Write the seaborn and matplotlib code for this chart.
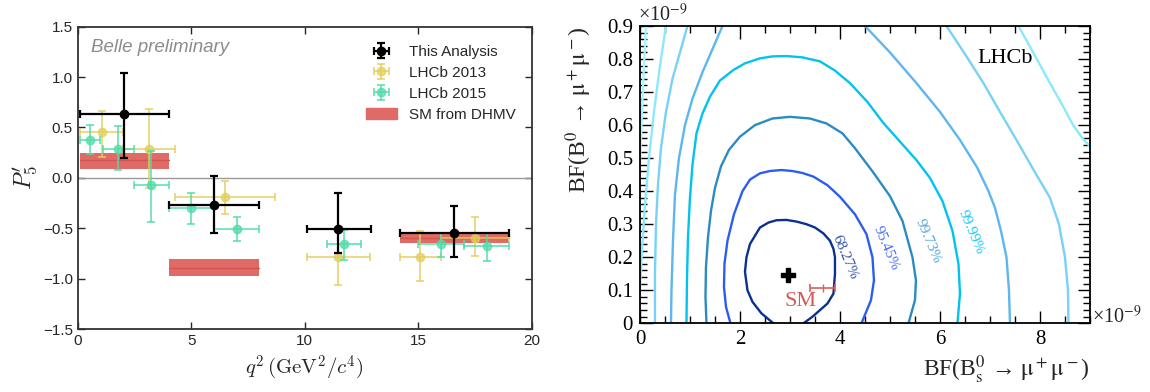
import numpy as np
import seaborn as sns
import matplotlib
matplotlib.use('Agg')
import matplotlib.pyplot as plt
from matplotlib.patches import Patch
from matplotlib.ticker import MultipleLocator, FuncFormatter

# ---------------- left panel: P5' vs q2 ----------------
this_q2 = [2.05, 6.0, 11.48, 16.58]
this_lo = [0.1, 4.0, 10.09, 14.18]
this_hi = [4.0, 8.0, 12.9, 19.0]
this_p5 = [0.63, -0.27, -0.51, -0.55]
this_up = [0.41, 0.29, 0.36, 0.27]
this_dn = [0.43, 0.28, 0.24, 0.24]

lhcb13_q2 = [1.06, 3.14, 6.49, 11.48, 15.08, 17.5]
lhcb13_lo = [0.1, 2.0, 4.3, 10.09, 14.18, 16.0]
lhcb13_hi = [2.0, 4.3, 8.68, 12.86, 16.0, 19.0]
lhcb13_p5 = [0.45, 0.29, -0.19, -0.79, -0.79, -0.60]
lhcb13_up = [0.21, 0.39, 0.16, 0.27, 0.26, 0.21]
lhcb13_dn = [0.24, 0.39, 0.17, 0.27, 0.23, 0.18]

lhcb15_q2 = [0.53, 1.79, 3.23, 4.98, 7.0, 11.75, 15.99, 18.02]
lhcb15_lo = [0.1, 1.1, 2.5, 4.0, 6.0, 11.0, 15.0, 17.0]
lhcb15_hi = [0.98, 2.5, 4.0, 6.0, 8.0, 12.5, 17.0, 19.0]
lhcb15_p5 = [0.38, 0.29, -0.07, -0.30, -0.51, -0.66, -0.66, -0.68]
lhcb15_up = [0.14, 0.22, 0.34, 0.15, 0.12, 0.14, 0.11, 0.13]
lhcb15_dn = [0.14, 0.21, 0.37, 0.16, 0.12, 0.16, 0.13, 0.15]

sm_q2_lo = [0.1, 4.0, 14.18]
sm_q2_hi = [4.0, 8.0, 19.0]
sm_mid = [0.175, -0.89, -0.60]
sm_low = [0.083, -0.97, -0.65]
sm_high = [0.25, -0.81, -0.55]

# ---------------- right panel: BF contours (units of 1e-9) ----------------
c68_x = [2.67, 2.43, 2.25, 2.15, 2.10, 2.13, 2.20, 2.40, 2.57, 2.73, 2.93, 3.13, 3.33, 3.50, 3.67, 3.80, 3.87,
         3.90, 3.90, 3.87, 3.75, 3.60, 3.45, 3.27]
c68_y = [0.0, 0.03, 0.065, 0.10, 0.156, 0.20, 0.24, 0.29, 0.305, 0.312, 0.313, 0.308, 0.30, 0.29, 0.272, 0.25, 0.225,
         0.20, 0.15, 0.09, 0.06, 0.04, 0.02, 0.0]

c95_x = [1.81, 1.72, 1.68, 1.69, 1.75, 1.88, 2.05, 2.2, 2.4, 2.6, 2.83, 3.05, 3.25, 3.47, 3.75, 4.0, 4.3, 4.53,
         4.65, 4.68, 4.62, 4.43]
c95_y = [0.0, 0.05, 0.11, 0.18, 0.25, 0.33, 0.40, 0.435, 0.454, 0.461, 0.464, 0.461, 0.455, 0.444, 0.418, 0.383,
         0.33, 0.27, 0.2, 0.13, 0.07, 0.0]

c997_x = [1.33, 1.31, 1.32, 1.36, 1.42, 1.50, 1.62, 1.78, 2.0, 2.3, 2.65, 3.0, 3.4, 3.73, 4.05, 4.3,
          4.65, 5.0, 5.25, 5.45, 5.52, 5.50, 5.37]
c997_y = [0.0, 0.08, 0.17, 0.26, 0.34, 0.41, 0.475, 0.525, 0.565, 0.6, 0.62, 0.625, 0.62, 0.605, 0.575, 0.53,
          0.46, 0.385, 0.31, 0.2, 0.13, 0.07, 0.0]

c9999_x = [0.93, 0.94, 0.96, 1.0, 1.05, 1.13, 1.25, 1.4, 1.6, 1.87, 2.1, 2.4, 2.65, 2.93, 3.25, 3.6, 3.9, 4.2,
           4.55, 4.87, 5.2, 5.53, 5.8, 6.05, 6.25, 6.37, 6.4, 6.35]
c9999_y = [0.0, 0.13, 0.26, 0.38, 0.48, 0.575, 0.635, 0.686, 0.735, 0.767, 0.787, 0.802, 0.808, 0.809, 0.805, 0.793,
           0.765, 0.727, 0.67, 0.606, 0.55, 0.494, 0.44, 0.37, 0.28, 0.18, 0.09, 0.0]

c5_left_x = [0.62, 0.63, 0.66, 0.70, 0.78, 0.90, 1.05, 1.25, 1.45, 1.65]
c5_left_y = [0.0, 0.1, 0.25, 0.39, 0.5, 0.6, 0.68, 0.76, 0.83, 0.9]
c5_right_x = [4.5, 5.0, 5.53, 6.0, 6.4, 6.75, 6.97, 7.1, 7.22, 7.33, 7.38, 7.40]
c5_right_y = [0.9, 0.82, 0.727, 0.64, 0.555, 0.47, 0.40, 0.35, 0.28, 0.2, 0.1, 0.0]

c6_left_x = [0.30, 0.30, 0.32, 0.36, 0.42, 0.52, 0.65, 0.80, 0.95]
c6_left_y = [0.0, 0.15, 0.3, 0.42, 0.53, 0.64, 0.74, 0.82, 0.9]
c6_right_x = [6.13, 6.5, 6.87, 7.2, 7.53, 7.87, 8.2, 8.38, 8.5, 8.56, 8.57]
c6_right_y = [0.9, 0.815, 0.727, 0.64, 0.555, 0.465, 0.38, 0.3, 0.2, 0.1, 0.0]

c7_left_x = [0.52, 0.40, 0.28, 0.18, 0.10, 0.04, 0.0]
c7_left_y = [0.9, 0.78, 0.64, 0.5, 0.36, 0.22, 0.1]
c7_right_x = [7.57, 7.9, 8.2, 8.45, 8.67, 8.85, 9.0]
c7_right_y = [0.9, 0.81, 0.727, 0.66, 0.598, 0.56, 0.535]

c8_left_x = [0.12, 0.07, 0.03, 0.0]
c8_left_y = [0.9, 0.75, 0.6, 0.48]

cl_labels = ['68.27%', '95.45%', '99.73%', '99.99%']
cl_label_x = [4.1, 4.92, 5.75, 6.62]
cl_label_y = [0.20, 0.227, 0.25, 0.277]

best_fit = (2.97, 0.146)
sm_bs, sm_bs_err, sm_b0 = 3.66, 0.25, 0.106


def draw_points(ax, q2, lo, hi, val, up, dn, color, label, lw, alpha, z):
    xerr = [np.subtract(q2, lo), np.subtract(hi, q2)]
    ax.errorbar(q2, val, xerr=xerr, yerr=[dn, up], fmt='o', color=color, ms=6,
                lw=lw, capsize=3, capthick=lw, alpha=alpha, label=label, zorder=z)


sns.set_style('ticks', {'xtick.direction': 'in', 'ytick.direction': 'in'})
plt.rcParams['font.family'] = ['Liberation Sans', 'DejaVu Sans']

fig = plt.figure(figsize=(11.5, 3.92), dpi=100)

# ---- left ----
ax = fig.add_axes([0.0676, 0.1607, 0.3947, 0.7713])
ax.axhline(0, color='#999999', lw=1, zorder=1)
for i in range(len(sm_mid)):
    ax.fill_between([sm_q2_lo[i], sm_q2_hi[i]], sm_low[i], sm_high[i],
                    color='#e06b66', lw=0, zorder=2)
    ax.plot([sm_q2_lo[i], sm_q2_hi[i]], [sm_mid[i]] * 2, color='#d05550', lw=1, zorder=2)

draw_points(ax, lhcb13_q2, lhcb13_lo, lhcb13_hi, lhcb13_p5, lhcb13_up, lhcb13_dn,
            '#e2cf5c', 'LHCb 2013', 1.4, 0.75, 3)
draw_points(ax, lhcb15_q2, lhcb15_lo, lhcb15_hi, lhcb15_p5, lhcb15_up, lhcb15_dn,
            '#4fdca8', 'LHCb 2015', 1.4, 0.75, 4)
draw_points(ax, this_q2, this_lo, this_hi, this_p5, this_up, this_dn,
            'black', 'This Analysis', 1.6, 1.0, 5)

ax.set_xlim(0, 20)
ax.set_ylim(-1.5, 1.5)
ax.xaxis.set_major_locator(MultipleLocator(5))
ax.yaxis.set_major_locator(MultipleLocator(0.5))
ax.tick_params(which='both', direction='in', top=True, right=True, length=5,
               width=1, labelsize=11, colors='.15')
for s in ax.spines.values():
    s.set_linewidth(1.3)
    s.set_color('.2')

ax.text(0.03, 0.93, 'Belle preliminary', transform=ax.transAxes, ha='left', va='center',
        fontsize=13.5, style='italic', color='#8c8c8c')
ax.set_xlabel(r'$q^2\,(\mathrm{GeV}^2/c^4)$', fontsize=15, math_fontfamily='cm')
ax.set_ylabel(r"$P_5'$", fontsize=17, math_fontfamily='cm', labelpad=2)

handles, labels = ax.get_legend_handles_labels()
order = [labels.index(n) for n in ['This Analysis', 'LHCb 2013', 'LHCb 2015']]
handles = [handles[i] for i in order] + [Patch(color='#e06b66')]
labels = [labels[i] for i in order] + ['SM from DHMV']
ax.legend(handles, labels, loc='upper right', bbox_to_anchor=(0.995, 0.985), frameon=False,
          fontsize=11, handlelength=2.0, labelspacing=0.45)

# ---- right ----
serif = 'Liberation Serif'
ax2 = fig.add_axes([0.5565, 0.1752, 0.3913, 0.7585])
contours = [
    (c8_left_x, c8_left_y, '#a6f4ff'),
    (c7_left_x, c7_left_y, '#8ee8fb'),
    (c7_right_x, c7_right_y, '#8ee8fb'),
    (c6_left_x, c6_left_y, '#78d2f6'),
    (c6_right_x, c6_right_y, '#78d2f6'),
    (c5_left_x, c5_left_y, '#5db6ee'),
    (c5_right_x, c5_right_y, '#5db6ee'),
    (c9999_x, c9999_y, '#00c3f0'),
    (c997_x, c997_y, '#2a8cc0'),
    (c95_x, c95_y, '#2d5cf0'),
    (c68_x, c68_y, '#0a318f'),
]
for cx, cy, col in contours:
    ax2.plot(cx, cy, color=col, lw=1.7, solid_capstyle='round', solid_joinstyle='round')

label_cols = ['#3050a8', '#4a6cf2', '#55a6d6', '#1cc6f0']
for t, lx, ly, col in zip(cl_labels, cl_label_x, cl_label_y, label_cols):
    ax2.text(lx, ly, t, rotation=-67, ha='center', va='center', color=col,
             fontsize=11, family=serif)

ax2.plot(*best_fit, marker='P', ms=10, color='black', mec='black', ls='none', zorder=6)
ax2.errorbar(sm_bs, sm_b0, xerr=sm_bs_err, fmt='|', ms=6, color='#d9605c', lw=1.2,
             capsize=3, capthick=1.2, zorder=6)
ax2.text(3.22, 0.065, 'SM', color='#d45a5a', fontsize=16, family=serif, ha='center', va='center')
ax2.text(7.3, 0.803, 'LHCb', color='black', fontsize=16, family=serif, ha='center', va='center')

ax2.set_xlim(0, 9)
ax2.set_ylim(0, 0.9)
ax2.xaxis.set_major_locator(MultipleLocator(2))
ax2.xaxis.set_minor_locator(MultipleLocator(0.5))
ax2.yaxis.set_major_locator(MultipleLocator(0.1))
ax2.yaxis.set_minor_locator(MultipleLocator(0.02))
fmt = FuncFormatter(lambda v, _: '0' if abs(v) < 1e-9 else f'{v:g}')
ax2.xaxis.set_major_formatter(fmt)
ax2.yaxis.set_major_formatter(fmt)
ax2.tick_params(which='both', direction='in', top=True, right=True, width=1, colors='black',
                labelsize=15, labelfontfamily=serif, pad=5)
ax2.tick_params(which='major', length=9)
ax2.tick_params(which='minor', length=5)
for s in ax2.spines.values():
    s.set_linewidth(1.3)
    s.set_color('black')

ax2.text(-0.005, 1.0, r'×10$^{-9}$', transform=ax2.transAxes, ha='left', va='bottom',
         fontsize=14.5, family=serif, math_fontfamily='stix')
ax2.text(1.005, 0.0, r'×10$^{-9}$', transform=ax2.transAxes, ha='left', va='baseline',
         fontsize=14.5, family=serif, math_fontfamily='stix')
ax2.set_xlabel(r'BF(B$^0_\mathrm{s}$ → $\mathrm{μ}^+\mathrm{μ}^-$)', loc='right', fontsize=17,
               family=serif, math_fontfamily='stix', labelpad=3)
ax2.set_ylabel(r'BF(B$^0$ → $\mathrm{μ}^+\mathrm{μ}^-$)', loc='top', fontsize=17,
               family=serif, math_fontfamily='stix', labelpad=9)

fig.savefig('out.png', dpi=100)
